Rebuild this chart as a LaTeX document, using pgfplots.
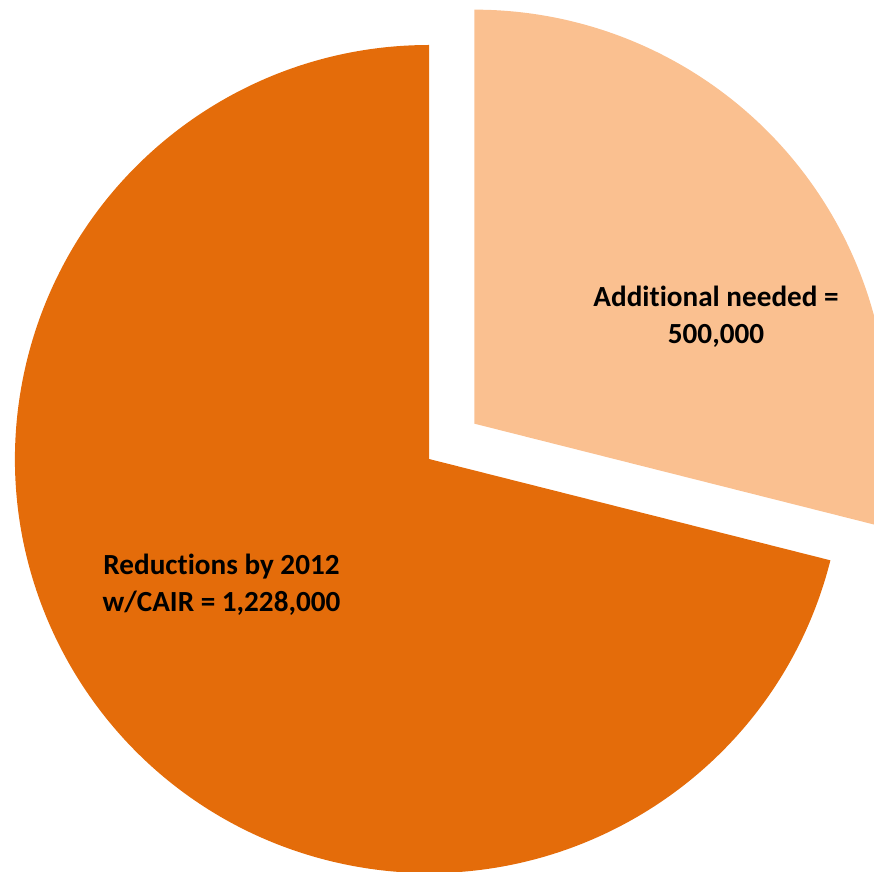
\documentclass[border=0pt]{standalone}
\usepackage{pgfplots}
\pgfplotsset{compat=1.18}
\usepackage{pgfplotstable}
\usepackage{fontspec}
\setmainfont{Carlito}[Ligatures=NoCommon]
\definecolor{darkor}{HTML}{E46C0A}
\definecolor{lightor}{HTML}{FAC090}
\pgfplotstableread{
label value
Additional 500000
Reductions 1228000
}\piedata
\pgfplotstablegetelem{0}{value}\of\piedata \let\va\pgfplotsretval
\pgfplotstablegetelem{1}{value}\of\piedata \let\vb\pgfplotsretval
\edef\angA{\fpeval{360*\va/(\va+\vb)}}
\edef\endA{\fpeval{90-\angA}}
\edef\midA{\fpeval{90-\angA/2}}
\edef\ox{\fpeval{57.5*cosd(\midA)}}
\edef\oy{\fpeval{57.5*sind(\midA)}}
\begin{document}
\begin{tikzpicture}
\begin{axis}[width=8.74cm,height=8.71cm,scale only axis,hide axis,
  xmin=-429,xmax=445,ymin=-412,ymax=459,clip=true]
\fill[darkor] (axis cs:0,0) -- (axis cs:{414*cos(\endA)},{414*sin(\endA)})
  arc[start angle=\endA, end angle=-270, radius=4.14cm] -- cycle;
\fill[lightor] (axis cs:\ox,\oy) -- (axis cs:\ox,{\oy+414})
  arc[start angle=90, end angle=\endA, radius=4.14cm] -- cycle;
\node[font=\bfseries\fontsize{8.3}{10.4}\selectfont, align=center] at (axis cs:287,142) {Additional needed =\\500,000};
\node[font=\bfseries\fontsize{8.3}{10.4}\selectfont, align=center] at (axis cs:-207.5,-126) {Reductions by 2012\\w/CAIR = 1,228,000};
\end{axis}
\pgfresetboundingbox
\useasboundingbox (current axis.south west) rectangle (current axis.north east);
\end{tikzpicture}
\end{document}
